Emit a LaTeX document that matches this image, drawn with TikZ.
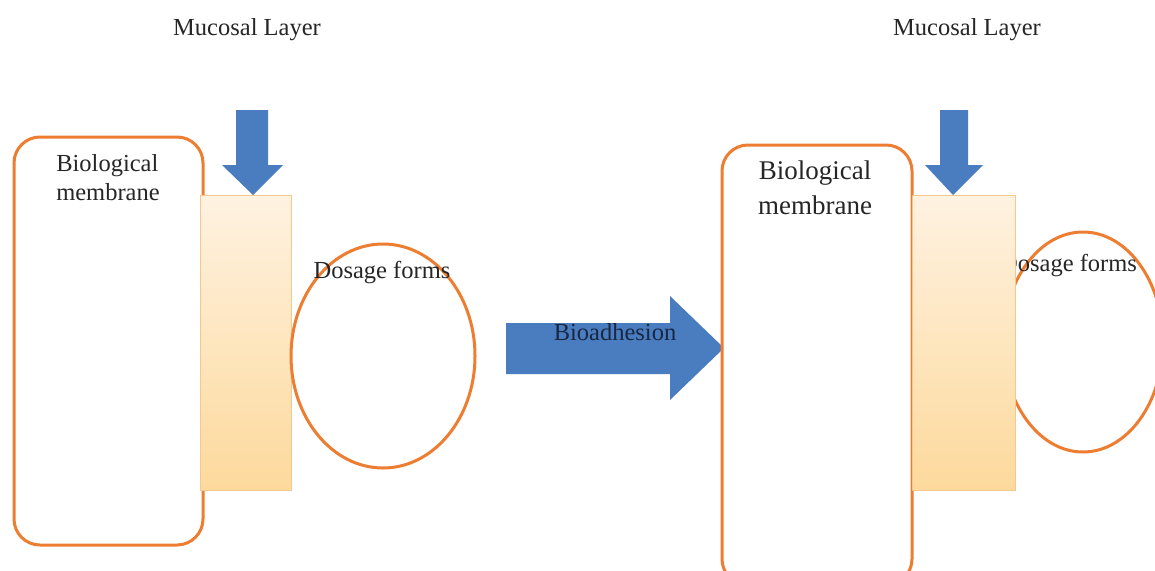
\documentclass[tikz,border=0pt]{standalone}
\usepackage{fontspec}
\setmainfont{Liberation Serif}
\usetikzlibrary{shapes.geometric}
\definecolor{memorange}{HTML}{ED7D31}
\definecolor{arrowblue}{HTML}{4A7DC0}
\definecolor{mucotop}{HTML}{FEF2E1}
\definecolor{mucobot}{HTML}{FDD99C}
\definecolor{mucoedge}{HTML}{F6C88C}
\definecolor{navytext}{HTML}{1A2742}
\tikzset{
  membrane/.style={draw=memorange, line width=3pt, rounded corners=26pt, fill=white},
  mucosa/.style={draw=mucoedge, line width=1pt, top color=mucotop, bottom color=mucobot},
  dose/.style={draw=memorange, line width=3pt},
  blockarrow/.style={fill=arrowblue, draw=none},
  lbl/.style={font=\fontsize{24.5}{29}\selectfont, inner sep=0pt, text=black!85},
  lblbig/.style={font=\fontsize{27}{35}\selectfont, inner sep=0pt, align=center, text=black!85},
}
\begin{document}
\begin{tikzpicture}[x=1pt,y=-1pt]
\useasboundingbox (0,0) rectangle (1155,570);
\fill[white] (0,0) rectangle (1155,570);

% ---------------- left panel ----------------
\node[lbl] (mlL) at (247,30) {Mucosal Layer};
\draw[membrane] (14,137) rectangle (203,545);
\node[lbl, align=left, font=\fontsize{24.5}{29}\selectfont] (bmL) at (108,178) {Biological\\membrane};
\draw[mucosa] (200,195) rectangle (291,490);
\draw[blockarrow] (236,110) -- (268,110) -- (268,165) -- (283,165) -- (253,195) -- (222,165) -- (236,165) -- cycle;
\draw[dose] (383,356) ellipse [x radius=92, y radius=112];
\node[lbl] (dfL) at (382,273) {Dosage forms};

% ---------------- bioadhesion arrow ----------------
\draw[blockarrow] (506,323) -- (670,323) -- (670,296) -- (724,348) -- (670,400) -- (670,374) -- (506,374) -- cycle;
\node[lbl, text=navytext] (bio) at (615,332) {Bioadhesion};

% ---------------- right panel ----------------
\node[lbl] (mlR) at (967,30) {Mucosal Layer};
\draw[dose] (1083,342) ellipse [x radius=80, y radius=110];
\node[lbl, anchor=west] (dfR) at (1000,266) {Dosage forms};
\draw[membrane] (722,145) rectangle (912,585);
\node[lblbig] (bmR) at (815,188) {Biological\\membrane};
\draw[mucosa] (912,195) rectangle (1015,490);
\draw[blockarrow] (940,110) -- (968,110) -- (968,165) -- (983,165) -- (953,195) -- (925,165) -- (940,165) -- cycle;
\end{tikzpicture}
\end{document}
